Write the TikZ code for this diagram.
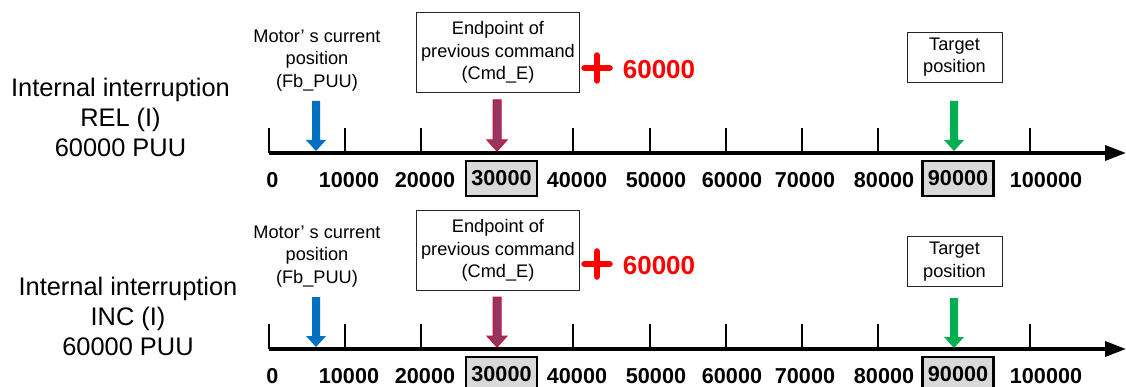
\documentclass[tikz,border=0pt]{standalone}
\usepackage{fontspec}
\setmainfont{Liberation Sans}
\usetikzlibrary{arrows.meta,calc}
\definecolor{pblue}{RGB}{0,112,192}
\definecolor{pgreen}{RGB}{0,176,80}
\definecolor{pmaroon}{RGB}{150,52,100}
\definecolor{pmaroonline}{RGB}{200,20,50}
\definecolor{pred}{RGB}{255,0,0}
\definecolor{pgray}{RGB}{217,217,217}
\newcommand\blockarr[3]{%
  \path[#3] ($(#1)+(-4,0)$) -- ($(#2)+(-4,-11)$) -- ($(#2)+(-10,-11)$) -- (#2)
    -- ($(#2)+(10,-11)$) -- ($(#2)+(4,-11)$) -- ($(#1)+(4,0)$) -- cycle;}
\begin{document}
\begin{tikzpicture}[x=1pt,y=-1pt,
  lbl/.style={inner sep=0pt,align=center,font=\fontsize{25.4}{30}\selectfont},
  smalltxt/.style={inner sep=0pt,align=center,font=\fontsize{18.2}{22.5}\selectfont},
  tbox/.style={draw=black!85,line width=0.9pt,inner sep=0pt,align=center,font=\fontsize{18.2}{22.5}\selectfont},
  num/.style={inner sep=0pt,font=\bfseries\fontsize{21.6}{26}\selectfont},
  numbox/.style={draw=black,fill=pgray,line width=2.2pt,minimum width=71pt,minimum height=35pt},
  redtxt/.style={inner sep=0pt,text=pred,font=\bfseries\fontsize{26}{30}\selectfont},
  plusmark/.style={draw=pred,line width=6.5pt,line cap=round},
  axisline/.style={line width=3.5pt,-{Triangle[length=21pt,width=15pt]}},
  tickline/.style={line width=2pt},
  bluearr/.style={fill=pblue},
  greenarr/.style={fill=pgreen},
  maroonarr/.style={fill=pmaroon,draw=pmaroonline,line width=1pt,line join=miter}
]
\useasboundingbox (0,0) rectangle (1126,387);
\clip (0,0) rectangle (1126,387);

% ---------------- top row ----------------
\node[lbl] (tlab) at (120.5,117) {Internal interruption\\REL (I)\\60000 PUU};
\node[smalltxt] (tmot) at (317,60.5) {Motor’ s current\\position\\(Fb\_PUU)};
\node[tbox,minimum width=163pt,minimum height=80pt] (tend) at (498,52.5) {Endpoint of\\previous command\\(Cmd\_E)};
\node[tbox,minimum width=95pt,minimum height=50pt] (ttar) at (954.5,57) {Target\\position};
\draw[plusmark] (584.5,68) -- (609.5,68) (597,55.5) -- (597,80.5);
\node[redtxt] (tsix) at (659,70) {60000};

\coordinate (taxs) at (269,153);
\coordinate (taxe) at (1126,153);
\draw[axisline] (taxs) -- (taxe);
\foreach \k in {0,1,2,4,5,6,7,8,10}
  \draw[tickline] ({269+76.1*\k},128) -- ({269+76.1*\k},153);
\foreach \v/\x in {0/272.5,10000/349,20000/425,40000/577,50000/656,60000/732,70000/805,80000/884,100000/1046}
  \node[num] (tn\v) at (\x,180) {\v};
\node[num,numbox] (tn30000) at (501.5,178.5) {30000};
\node[num,numbox] (tn90000) at (958,178.5) {90000};

\coordinate (tba) at (316,101); \coordinate (tbb) at (316,151);
\coordinate (tma) at (497,100); \coordinate (tmb) at (497,151);
\coordinate (tga) at (954,101); \coordinate (tgb) at (954,151);
\blockarr{tba}{tbb}{bluearr}
\blockarr{tma}{tmb}{maroonarr}
\blockarr{tga}{tgb}{greenarr}

% ---------------- bottom row ----------------
\node[lbl] (blab) at (128,316) {Internal interruption\\INC (I)\\60000 PUU};
\node[smalltxt] (bmot) at (317,256.5) {Motor’ s current\\position\\(Fb\_PUU)};
\node[tbox,minimum width=163pt,minimum height=80pt] (bend) at (498,250.5) {Endpoint of\\previous command\\(Cmd\_E)};
\node[tbox,minimum width=95pt,minimum height=50pt] (btar) at (954.5,261.5) {Target\\position};
\draw[plusmark] (584.5,264) -- (609.5,264) (597,251.5) -- (597,276.5);
\node[redtxt] (bsix) at (659,266) {60000};

\coordinate (baxs) at (269,349);
\coordinate (baxe) at (1126,349);
\draw[axisline] (baxs) -- (baxe);
\foreach \k in {0,1,2,4,5,6,7,8,10}
  \draw[tickline] ({269+76.1*\k},324) -- ({269+76.1*\k},349);
\foreach \v/\x in {0/272.5,10000/349,20000/425,40000/577,50000/656,60000/732,70000/805,80000/884,100000/1046}
  \node[num] (bn\v) at (\x,376) {\v};
\node[num,numbox] (bn30000) at (501.5,374.5) {30000};
\node[num,numbox] (bn90000) at (958,374.5) {90000};

\coordinate (bba) at (316,297); \coordinate (bbb) at (316,347);
\coordinate (bma) at (497,297); \coordinate (bmb) at (497,347);
\coordinate (bga) at (954,298); \coordinate (bgb) at (954,348);
\blockarr{bba}{bbb}{bluearr}
\blockarr{bma}{bmb}{maroonarr}
\blockarr{bga}{bgb}{greenarr}
\end{tikzpicture}
\end{document}
